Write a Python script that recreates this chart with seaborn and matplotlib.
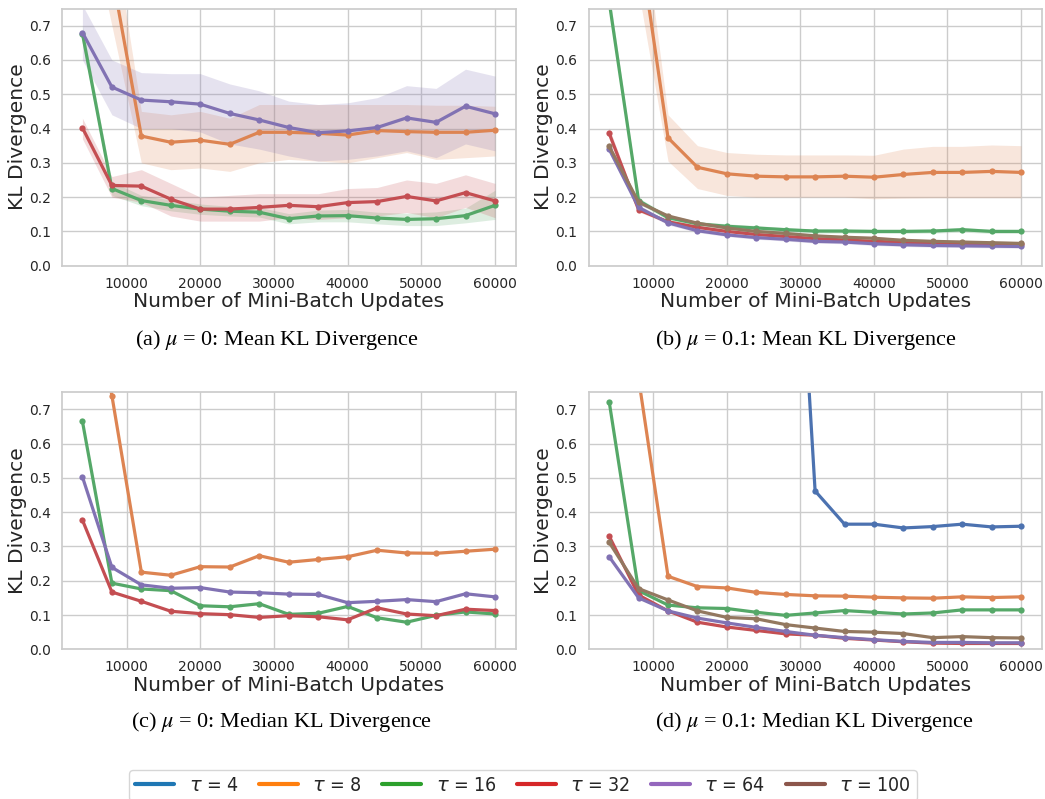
import numpy as np
import pandas as pd
import matplotlib
matplotlib.use("Agg")
import matplotlib.pyplot as plt
from matplotlib.lines import Line2D
from matplotlib import font_manager
import seaborn as sns

sns.set_theme(style="whitegrid")
plt.rcParams['font.family'] = ['DejaVu Sans']
plt.rcParams['mathtext.fontset'] = 'dejavusans'

updates = [4000, 8000, 12000, 16000, 20000, 24000, 28000, 32000,
           36000, 40000, 44000, 48000, 52000, 56000, 60000]
taus = [4, 8, 16, 32, 64, 100]
nan = np.nan

# (a) mu = 0, mean KL  (value, lower band, upper band)
a_mean = {
    8: [1.30, 0.853, 0.378, 0.360, 0.366, 0.354, 0.389, 0.389, 0.386, 0.381, 0.394, 0.391, 0.389, 0.389, 0.395],
    16: [0.677, 0.225, 0.190, 0.176, 0.165, 0.159, 0.156, 0.137, 0.145, 0.146, 0.139, 0.135, 0.137, 0.146, 0.176],
    32: [0.402, 0.234, 0.232, 0.194, 0.165, 0.165, 0.170, 0.176, 0.172, 0.184, 0.187, 0.202, 0.189, 0.213, 0.189],
    64: [0.680, 0.521, 0.483, 0.478, 0.471, 0.444, 0.425, 0.403, 0.388, 0.393, 0.403, 0.431, 0.418, 0.465, 0.443],
}
a_low = {
    8: [1.10, 0.700, 0.300, 0.280, 0.285, 0.275, 0.300, 0.310, 0.305, 0.300, 0.315, 0.330, 0.310, 0.315, 0.320],
    16: [0.650, 0.205, 0.175, 0.160, 0.150, 0.145, 0.142, 0.122, 0.128, 0.128, 0.122, 0.117, 0.117, 0.125, 0.135],
    32: [0.370, 0.200, 0.185, 0.145, 0.130, 0.130, 0.130, 0.140, 0.135, 0.140, 0.145, 0.155, 0.140, 0.170, 0.140],
    64: [0.600, 0.440, 0.400, 0.400, 0.390, 0.355, 0.340, 0.320, 0.305, 0.310, 0.320, 0.335, 0.315, 0.355, 0.335],
}
a_high = {
    8: [1.50, 1.000, 0.450, 0.440, 0.450, 0.430, 0.470, 0.470, 0.470, 0.470, 0.470, 0.470, 0.468, 0.468, 0.465],
    16: [0.700, 0.245, 0.205, 0.192, 0.180, 0.173, 0.170, 0.152, 0.162, 0.164, 0.156, 0.153, 0.157, 0.168, 0.220],
    32: [0.430, 0.260, 0.280, 0.240, 0.200, 0.205, 0.210, 0.210, 0.210, 0.225, 0.228, 0.250, 0.240, 0.265, 0.240],
    64: [0.760, 0.600, 0.563, 0.560, 0.560, 0.530, 0.510, 0.480, 0.470, 0.475, 0.490, 0.525, 0.517, 0.573, 0.553],
}

# (b) mu = 0.1, mean KL
b_mean = {
    8: [1.50, 0.960, 0.373, 0.287, 0.268, 0.261, 0.259, 0.259, 0.261, 0.258, 0.266, 0.272, 0.272, 0.275, 0.272],
    16: [0.770, 0.190, 0.140, 0.122, 0.115, 0.110, 0.105, 0.101, 0.101, 0.100, 0.100, 0.101, 0.105, 0.100, 0.100],
    32: [0.386, 0.163, 0.128, 0.112, 0.100, 0.091, 0.085, 0.079, 0.075, 0.071, 0.068, 0.066, 0.064, 0.063, 0.062],
    64: [0.340, 0.170, 0.125, 0.102, 0.090, 0.082, 0.077, 0.071, 0.069, 0.064, 0.061, 0.059, 0.058, 0.057, 0.056],
    100: [0.348, 0.185, 0.145, 0.124, 0.110, 0.100, 0.094, 0.087, 0.083, 0.080, 0.074, 0.071, 0.069, 0.067, 0.065],
}
b_low = {
    8: [1.30, 0.800, 0.305, 0.225, 0.205, 0.200, 0.200, 0.200, 0.200, 0.195, 0.197, 0.198, 0.198, 0.198, 0.198],
    16: [0.740, 0.182, 0.133, 0.115, 0.108, 0.103, 0.099, 0.095, 0.095, 0.094, 0.094, 0.095, 0.098, 0.094, 0.094],
    32: [0.370, 0.157, 0.123, 0.107, 0.095, 0.087, 0.081, 0.075, 0.071, 0.067, 0.064, 0.062, 0.060, 0.059, 0.058],
    64: [0.328, 0.163, 0.119, 0.097, 0.085, 0.077, 0.072, 0.066, 0.064, 0.059, 0.056, 0.054, 0.053, 0.052, 0.051],
    100: [0.338, 0.179, 0.140, 0.119, 0.105, 0.095, 0.089, 0.082, 0.078, 0.075, 0.069, 0.066, 0.064, 0.062, 0.060],
}
b_high = {
    8: [1.70, 1.100, 0.440, 0.350, 0.330, 0.325, 0.323, 0.323, 0.323, 0.322, 0.340, 0.348, 0.348, 0.352, 0.350],
    16: [0.800, 0.198, 0.147, 0.129, 0.122, 0.117, 0.111, 0.107, 0.107, 0.106, 0.106, 0.107, 0.112, 0.106, 0.106],
    32: [0.402, 0.169, 0.133, 0.117, 0.105, 0.095, 0.089, 0.083, 0.079, 0.075, 0.072, 0.070, 0.068, 0.067, 0.066],
    64: [0.352, 0.177, 0.131, 0.107, 0.095, 0.087, 0.082, 0.076, 0.074, 0.069, 0.066, 0.064, 0.063, 0.062, 0.061],
    100: [0.358, 0.191, 0.150, 0.129, 0.115, 0.105, 0.099, 0.092, 0.088, 0.085, 0.079, 0.076, 0.074, 0.072, 0.070],
}

# (c) mu = 0, median KL
c_median = {
    8: [1.20, 0.740, 0.225, 0.216, 0.241, 0.240, 0.273, 0.254, 0.262, 0.270, 0.289, 0.281, 0.280, 0.286, 0.292],
    16: [0.665, 0.193, 0.176, 0.171, 0.127, 0.124, 0.133, 0.102, 0.105, 0.125, 0.092, 0.079, 0.099, 0.109, 0.103],
    32: [0.377, 0.167, 0.140, 0.111, 0.104, 0.101, 0.093, 0.098, 0.095, 0.086, 0.121, 0.103, 0.098, 0.117, 0.113],
    64: [0.503, 0.239, 0.188, 0.178, 0.180, 0.167, 0.165, 0.161, 0.160, 0.136, 0.140, 0.145, 0.139, 0.162, 0.153],
}

# (d) mu = 0.1, median KL
d_median = {
    4: [nan, nan, nan, nan, nan, nan, 1.90, 0.462, 0.365, 0.365, 0.354, 0.358, 0.365, 0.357, 0.359],
    8: [1.40, 0.790, 0.213, 0.183, 0.179, 0.166, 0.160, 0.156, 0.155, 0.152, 0.150, 0.149, 0.153, 0.151, 0.153],
    16: [0.722, 0.171, 0.129, 0.121, 0.119, 0.108, 0.099, 0.106, 0.113, 0.108, 0.103, 0.106, 0.115, 0.115, 0.115],
    32: [0.330, 0.158, 0.112, 0.079, 0.065, 0.055, 0.045, 0.041, 0.032, 0.027, 0.022, 0.018, 0.017, 0.017, 0.017],
    64: [0.270, 0.150, 0.112, 0.091, 0.077, 0.064, 0.052, 0.041, 0.034, 0.028, 0.023, 0.020, 0.020, 0.019, 0.019],
    100: [0.312, 0.177, 0.144, 0.112, 0.093, 0.089, 0.072, 0.062, 0.052, 0.050, 0.046, 0.034, 0.037, 0.034, 0.033],
}

captions = [r"(a) $\mu$ = 0: Mean KL Divergence",
            r"(b) $\mu$ = 0.1: Mean KL Divergence",
            r"(c) $\mu$ = 0: Median KL Divergence",
            r"(d) $\mu$ = 0.1: Median KL Divergence"]
legend_labels = [r"$\tau$ = %d" % t for t in taus]

deep = sns.color_palette("deep")
line_colors = {t: deep[i] for i, t in enumerate(taus)}
tab10 = sns.color_palette("tab10")

fig = plt.figure(figsize=(10.45, 7.99), dpi=100)
W, H = 1045, 799
def add_ax(l, r, t, b):
    return fig.add_axes([l / W, 1 - b / H, (r - l) / W, (b - t) / H])

axes = [add_ax(61.8, 515.6, 8.5, 265.7), add_ax(588.6, 1041.6, 8.5, 265.7),
        add_ax(61.8, 515.6, 392.2, 649.3), add_ax(588.6, 1041.6, 392.2, 649.3)]

panels = [(a_mean, a_low, a_high), (b_mean, b_low, b_high),
          (c_median, None, None), (d_median, None, None)]

for ax, (vals, lows, highs) in zip(axes, panels):
    rows = []
    for t, ys in vals.items():
        for x, y in zip(updates, ys):
            rows.append({"x": x, "y": y, "tau": t})
    df = pd.DataFrame(rows).dropna()
    pal = {t: line_colors[t] for t in vals}
    if lows is not None:
        for t in vals:
            ax.fill_between(updates, lows[t], highs[t], color=line_colors[t],
                            alpha=0.2, linewidth=0)
    sns.lineplot(data=df, x="x", y="y", hue="tau", palette=pal, marker="o",
                 markersize=4.5, markeredgewidth=0, linewidth=2.3,
                 legend=False, ax=ax, errorbar=None)
    ax.set_xlim(1200, 62800)
    ax.set_ylim(0, 0.75)
    ax.set_yticks(np.arange(0, 0.71, 0.1))
    ax.set_yticklabels(["%.1f" % v for v in np.arange(0, 0.71, 0.1)])
    ax.set_xticks([10000, 20000, 30000, 40000, 50000, 60000])
    ax.tick_params(labelsize=10, pad=2)
    ax.set_xlabel("Number of Mini-Batch Updates", fontsize=14.6, labelpad=1)
    ax.set_ylabel("KL Divergence", fontsize=14.6, labelpad=1.5)

cap_pos = [(277, 340), (806, 340), (282, 722), (814, 722)]
for (cx, cy), txt in zip(cap_pos, captions):
    fig.text(cx / W, 1 - cy / H, txt, ha="center", va="center",
             fontsize=16, family="Liberation Serif", math_fontfamily="stix",
             color="black")

leg_font = font_manager.FontProperties(family="DejaVu Sans", stretch="condensed", size=14)
handles = [Line2D([0], [0], color=tab10[i], lw=3) for i in range(len(taus))]
fig.legend(handles, legend_labels, loc="upper center", ncol=6,
           bbox_to_anchor=(523 / W, 1 - 770 / H), prop=leg_font,
           frameon=True, handlelength=2.0, handletextpad=0.75,
           columnspacing=1.05, borderaxespad=0, borderpad=0.3)

fig.savefig("out.png", dpi=100)
